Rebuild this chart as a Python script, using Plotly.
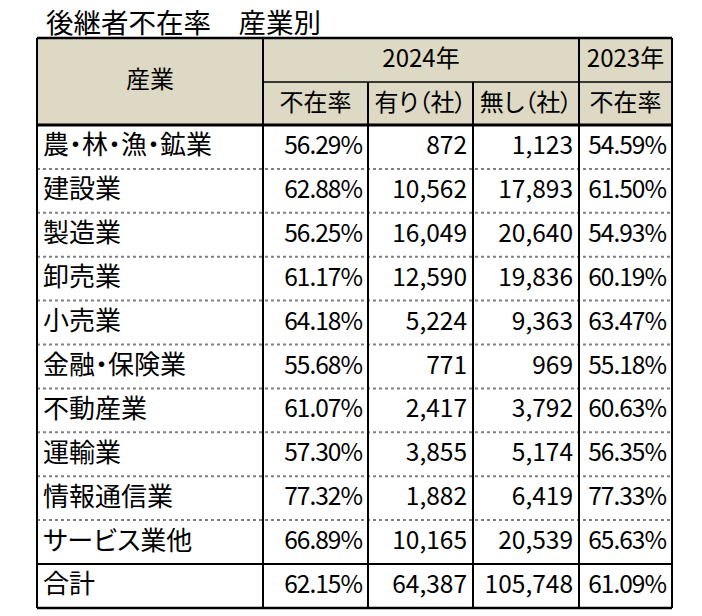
import plotly.graph_objects as go

# ---------------- data ----------------
title_text = "後継者不在率　産業別"
industries = ["農・林・漁・鉱業", "建設業", "製造業", "卸売業", "小売業", "金融・保険業",
              "不動産業", "運輸業", "情報通信業", "サービス業他", "合計"]
rate_2024 = [56.29, 62.88, 56.25, 61.17, 64.18, 55.68, 61.07, 57.30, 77.32, 66.89, 62.15]
with_successor_2024 = [872, 10562, 16049, 12590, 5224, 771, 2417, 3855, 1882, 10165, 64387]
without_successor_2024 = [1123, 17893, 20640, 19836, 9363, 969, 3792, 5174, 6419, 20539, 105748]
rate_2023 = [54.59, 61.50, 54.93, 60.19, 63.47, 55.18, 60.63, 56.35, 77.33, 65.63, 61.09]
header_industry = "産業"
header_years = ["2024年", "2023年"]
sub_headers = ["不在率", "有り（社）", "無し（社）", "不在率"]

# ---------------- layout constants ----------------
W, H = 702, 616
OFF = 8  # page body margin compensation
col_edges = [37, 263, 368, 473, 579, 672]
top = 38
h1_bottom = 82
body_top = 125
row_h = 43.9
n = len(industries)
row_edges = [body_top + i * row_h for i in range(n + 1)]
pad = 6
HEADER_BG = "#DDD9C4"
FONT = "Noto Sans CJK JP"
body_size = 26
num_size = 24.5
head_size = 24


def palt(s):
    return "<span style=\"font-feature-settings:'palt'\">" + s + "</span>"


def tight(s):
    return "<span style=\"letter-spacing:-1px\">" + s + "</span>"


fig = go.Figure()
shapes = []

shapes.append(dict(type="rect", xref="x", yref="y", x0=col_edges[0], x1=col_edges[-1],
                   y0=top, y1=body_top, fillcolor=HEADER_BG, line=dict(width=0), layer="below"))

for i in range(1, n - 1):
    shapes.append(dict(type="line", xref="x", yref="y", x0=col_edges[0], x1=col_edges[-1],
                       y0=row_edges[i], y1=row_edges[i], line=dict(color="#808080", width=2, dash="dot")))
shapes.append(dict(type="line", xref="x", yref="y", x0=col_edges[0], x1=col_edges[-1],
                   y0=row_edges[n - 1], y1=row_edges[n - 1], line=dict(color="black", width=2)))
shapes.append(dict(type="line", xref="x", yref="y", x0=col_edges[1], x1=col_edges[-1],
                   y0=h1_bottom, y1=h1_bottom, line=dict(color="black", width=1.5)))
shapes.append(dict(type="line", xref="x", yref="y", x0=col_edges[0], x1=col_edges[-1],
                   y0=body_top, y1=body_top, line=dict(color="black", width=3)))
for j, xe in enumerate(col_edges):
    y0 = h1_bottom if j in (2, 3) else top
    shapes.append(dict(type="line", xref="x", yref="y", x0=xe, x1=xe, y0=y0, y1=row_edges[-1],
                       line=dict(color="black", width=2)))
shapes.append(dict(type="line", xref="x", yref="y", x0=col_edges[0], x1=col_edges[-1],
                   y0=top, y1=top, line=dict(color="black", width=2.5)))
shapes.append(dict(type="line", xref="x", yref="y", x0=col_edges[0], x1=col_edges[-1],
                   y0=row_edges[-1], y1=row_edges[-1], line=dict(color="black", width=2.5)))

centers = [(row_edges[i] + row_edges[i + 1]) / 2 + 1 for i in range(n)]


def add_text(xs, ys, texts, pos, size, family=FONT):
    fig.add_trace(go.Scatter(x=xs, y=ys, text=texts, mode="text", textposition=pos,
                             textfont=dict(family=family, size=size, color="black"),
                             hoverinfo="skip", showlegend=False))


add_text([col_edges[0] + pad] * n, centers, [palt(s) for s in industries], "middle right", body_size)
cols = [
    [tight(f"{v:.2f}%") for v in rate_2024],
    [f"{v:,}" for v in with_successor_2024],
    [f"{v:,}" for v in without_successor_2024],
    [tight(f"{v:.2f}%") for v in rate_2023],
]
for k, texts in enumerate(cols):
    add_text([col_edges[k + 2] - pad] * n, centers, texts, "middle left", num_size)

add_text([(col_edges[0] + col_edges[1]) / 2], [(top + body_top) / 2], [palt(header_industry)],
         "middle center", head_size)
add_text([(col_edges[1] + col_edges[4]) / 2, (col_edges[4] + col_edges[5]) / 2],
         [(top + h1_bottom) / 2 + 1] * 2, header_years, "middle center", head_size)
add_text([(col_edges[k + 1] + col_edges[k + 2]) / 2 for k in range(4)],
         [(h1_bottom + body_top) / 2 + 1] * 4, [palt(s) for s in sub_headers], "middle center", head_size)

fig.update_layout(
    width=W, height=H, margin=dict(l=0, r=0, t=0, b=0),
    paper_bgcolor="white", plot_bgcolor="white",
    xaxis=dict(range=[OFF, W + OFF], visible=False, fixedrange=True),
    yaxis=dict(range=[H + OFF, OFF], visible=False, fixedrange=True),
    shapes=shapes,
    annotations=[dict(text=palt(title_text), xref="x", yref="y", x=44, y=20.5, xanchor="left",
                      yanchor="middle", showarrow=False,
                      font=dict(family=FONT, size=27.5, color="black"))],
)
fig.write_html("out.html")
